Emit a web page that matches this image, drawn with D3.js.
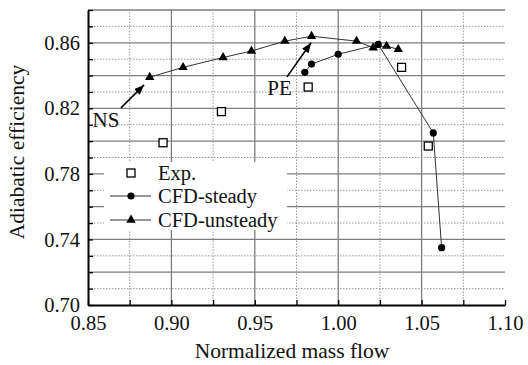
<!DOCTYPE html>
<html>
<head>
<meta charset="utf-8">
<script src="https://cdn.jsdelivr.net/npm/d3@7"></script>
<style>
  body { margin: 0; background: #fff; }
  text { font-family: "Liberation Serif", "Times New Roman", serif; }
</style>
</head>
<body>
<svg id="chart" width="528" height="365"></svg>
<script>
// Compressor efficiency vs. normalized mass flow
const expFlow = [0.895, 0.930, 0.982, 1.038, 1.054];
const expEff = [0.799, 0.818, 0.833, 0.845, 0.797];

const steadyFlow = [0.980, 0.984, 1.000, 1.024, 1.057, 1.062];
const steadyEff = [0.842, 0.847, 0.853, 0.859, 0.805, 0.735];

const unsteadyFlow = [0.887, 0.907, 0.931, 0.948, 0.968, 0.984, 1.011, 1.021, 1.029, 1.036];
const unsteadyEff = [0.839, 0.845, 0.851, 0.855, 0.861, 0.864, 0.861, 0.857, 0.858, 0.856];

const xTickLabels = [0.85, 0.90, 0.95, 1.00, 1.05, 1.10];
const yTickLabels = [0.70, 0.74, 0.78, 0.82, 0.86];
const seriesNames = ["Exp.", "CFD-steady", "CFD-unsteady"];

const svg = d3.select("#chart");
const x = d3.scaleLinear().domain([0.85, 1.10]).range([88, 505]);
const y = d3.scaleLinear().domain([0.70, 0.88]).range([305, 10]);

const fmt = d3.format(".2f");
const near = (a, b) => Math.abs(a - b) < 1e-6;

// grid: solid every 0.02 / 0.05, dotted in between
const yGrid = d3.range(1, 19).map(i => +(0.70 + i * 0.01).toFixed(2));
const xGrid = d3.range(1, 10).map(i => +(0.85 + i * 0.025).toFixed(3));
const majorY = d => Math.round(d * 100) % 2 === 0;
const majorX = d => Math.round(d * 1000) % 50 === 0;

const grid = svg.append("g").attr("class", "grid");
grid.selectAll("line.h").data(yGrid).join("line")
  .attr("x1", x(0.85)).attr("x2", x(1.10))
  .attr("y1", d => y(d)).attr("y2", d => y(d))
  .attr("stroke", d => majorY(d) ? "#7d7d7d" : "#959595")
  .attr("stroke-width", d => majorY(d) ? 1.3 : 1)
  .attr("stroke-dasharray", d => majorY(d) ? null : "1.5,1.5");
grid.selectAll("line.v").data(xGrid).join("line")
  .attr("y1", y(0.70)).attr("y2", y(0.88))
  .attr("x1", d => x(d)).attr("x2", d => x(d))
  .attr("stroke", d => majorX(d) ? "#7d7d7d" : "#959595")
  .attr("stroke-width", d => majorX(d) ? 1.3 : 1)
  .attr("stroke-dasharray", d => majorX(d) ? null : "1.5,1.5");

// legend background
svg.append("rect").attr("x", 104).attr("y", 162).attr("width", 183).attr("height", 68)
  .attr("fill", "#fff");

// axes
const yAxis = d3.axisLeft(y)
  .tickValues(d3.range(0, 19).map(i => +(0.70 + i * 0.01).toFixed(2)))
  .tickSizeInner(-5).tickSizeOuter(0).tickPadding(8)
  .tickFormat(d => yTickLabels.some(v => near(v, d)) ? fmt(d) : "");
const xAxis = d3.axisBottom(x)
  .tickValues(d3.range(0, 11).map(i => +(0.85 + i * 0.025).toFixed(3)))
  .tickSizeInner(-5).tickSizeOuter(0).tickPadding(10)
  .tickFormat(d => xTickLabels.some(v => near(v, d)) ? fmt(d) : "");

function styleAxis(g) {
  g.select(".domain").attr("stroke", "#000").attr("stroke-width", 2);
  g.selectAll(".tick line").attr("stroke", "#000").attr("stroke-width", 1.3);
  g.selectAll(".tick text").attr("fill", "#111").attr("font-size", 20.5)
    .attr("font-family", "Liberation Serif, Times New Roman, serif");
}
svg.append("g").attr("transform", `translate(${x(0.85)},0)`).call(yAxis).call(styleAxis);
svg.append("g").attr("transform", `translate(0,${y(0.70)})`).call(xAxis).call(styleAxis);

// axis titles
svg.append("text").attr("x", 292).attr("y", 358).attr("text-anchor", "middle")
  .attr("font-size", 21.5).attr("fill", "#111").text("Normalized mass flow");
svg.append("text").attr("transform", "translate(24,152) rotate(-90)")
  .attr("text-anchor", "middle").attr("font-size", 21.5).attr("fill", "#111")
  .text("Adiabatic efficiency");

// series
const line = d3.line().x(d => x(d[0])).y(d => y(d[1]));
const steady = d3.zip(steadyFlow, steadyEff);
const unsteady = d3.zip(unsteadyFlow, unsteadyEff);
const exp = d3.zip(expFlow, expEff);

svg.append("path").datum(unsteady).attr("d", line)
  .attr("fill", "none").attr("stroke", "#333").attr("stroke-width", 1);
svg.append("path").datum(steady).attr("d", line)
  .attr("fill", "none").attr("stroke", "#333").attr("stroke-width", 1);

const tri = d3.symbol().type(d3.symbolTriangle).size(38);
svg.selectAll("path.tri").data(unsteady).join("path")
  .attr("transform", d => `translate(${x(d[0])},${y(d[1])})`)
  .attr("d", tri).attr("fill", "#000");
svg.selectAll("circle.pt").data(steady).join("circle")
  .attr("cx", d => x(d[0])).attr("cy", d => y(d[1])).attr("r", 3.6).attr("fill", "#000");
svg.selectAll("rect.exp").data(exp).join("rect")
  .attr("x", d => x(d[0]) - 4).attr("y", d => y(d[1]) - 4)
  .attr("width", 8).attr("height", 8)
  .attr("fill", "#fff").attr("stroke", "#000").attr("stroke-width", 1.3);

// legend
const leg = svg.append("g");
const legY = [173, 196, 220];
leg.append("rect").attr("x", 127).attr("y", legY[0] - 4).attr("width", 8).attr("height", 8)
  .attr("fill", "#fff").attr("stroke", "#000").attr("stroke-width", 1.3);
[1, 2].forEach(i => {
  leg.append("line").attr("x1", 110).attr("x2", 151).attr("y1", legY[i]).attr("y2", legY[i])
    .attr("stroke", "#333").attr("stroke-width", 1);
});
leg.append("circle").attr("cx", 131).attr("cy", legY[1]).attr("r", 3.6).attr("fill", "#000");
leg.append("path").attr("transform", `translate(131,${legY[2]})`).attr("d", tri).attr("fill", "#000");
leg.selectAll("text").data(seriesNames).join("text")
  .attr("x", 158).attr("y", (d, i) => legY[i]).attr("dy", "0.35em")
  .attr("font-size", 20.5).attr("fill", "#111").text(d => d);

// annotations
const defs = svg.append("defs");
defs.append("marker").attr("id", "head").attr("viewBox", "0 0 10 8")
  .attr("refX", 10).attr("refY", 4).attr("markerWidth", 10).attr("markerHeight", 8)
  .attr("markerUnits", "userSpaceOnUse").attr("orient", "auto")
  .append("path").attr("d", "M0,0L10,4L0,8Z").attr("fill", "#000");

const notes = [
  { label: "NS", from: [0.8698, 0.8203], to: [0.8836, 0.8343], at: [0.8608, 0.8087] },
  { label: "PE", from: [0.9693, 0.8392], to: [0.9837, 0.8600], at: [0.9648, 0.8282] }
];
notes.forEach(n => {
  svg.append("line")
    .attr("x1", x(n.from[0])).attr("y1", y(n.from[1]))
    .attr("x2", x(n.to[0])).attr("y2", y(n.to[1]))
    .attr("stroke", "#000").attr("stroke-width", 1.6).attr("marker-end", "url(#head)");
  svg.append("text").attr("x", x(n.at[0])).attr("y", y(n.at[1]))
    .attr("text-anchor", "middle").attr("font-size", 21).attr("fill", "#111").text(n.label);
});
</script>
</body>
</html>
